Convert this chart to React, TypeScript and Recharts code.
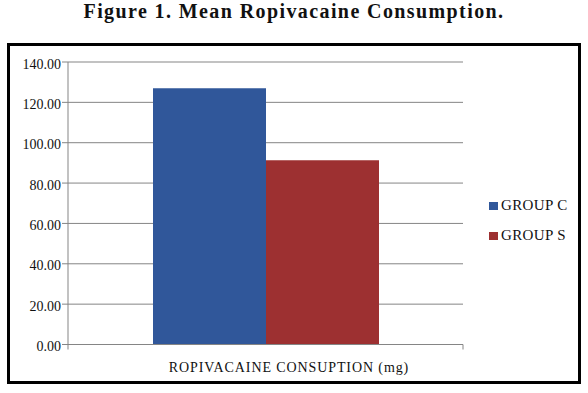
import React from 'react';
import { BarChart, Bar, XAxis, YAxis, CartesianGrid } from 'recharts';

const categories = ['ROPIVACAINE CONSUPTION (mg)'];
const seriesNames = ['GROUP C', 'GROUP S'];
const groupC = [127.0];
const groupS = [91.3];
const yTicks = [0, 20, 40, 60, 80, 100, 120, 140];

const data = categories.map((name, i) => ({
  name,
  groupC: groupC[i],
  groupS: groupS[i]
}));

const FONT = "'Liberation Serif', 'Times New Roman', serif";
const COLORS = ['#30579a', '#9d3031'];
const AXIS = '#858585';

function CategoryTick(props: any) {
  const { x, y, payload } = props;
  const half = payload.offset || 0;
  return (
    <g>
      <line x1={x - half} y1={y - 8} x2={x - half} y2={y - 3} stroke={AXIS} />
      <line x1={x + half} y1={y - 8} x2={x + half} y2={y - 3} stroke={AXIS} />
      <text
        x={x + 23.5}
        y={y + 19.4}
        textAnchor="middle"
        style={{ fontFamily: FONT, fontSize: 14, letterSpacing: 0.9 }}
        fill="#111">
        {payload.value}
      </text>
    </g>);

}

function ValueTick(props: any) {
  const { x, y, payload } = props;
  return (
    <text x={x} y={y} dy={6.5} textAnchor="end" style={{ fontFamily: FONT, fontSize: 14 }} fill="#111">
      {Number(payload.value).toFixed(2)}
    </text>);

}

export default function App() {
  return (
    <div style={{ position: 'absolute', left: 0, top: 0, width: 588, height: 393, background: '#fff', fontFamily: FONT }}>
      <div
        style={{
          position: 'absolute',
          left: 0,
          width: 588,
          top: 0,
          textAlign: 'center',
          fontWeight: 'bold',
          fontSize: 20,
          letterSpacing: 1.4,
          color: '#111'
        }}>
        Figure 1. Mean Ropivacaine Consumption.
      </div>
      <div
        style={{
          position: 'absolute',
          left: 7,
          top: 43,
          width: 568,
          height: 335,
          border: '3px solid #000'
        }} />
      
      <div style={{ position: 'absolute', left: 0, top: 0 }}>
        <BarChart
          width={588}
          height={393}
          data={data}
          margin={{ top: 62, right: 125, left: 0, bottom: 18.5 }}
          barCategoryGap={85}
          barGap={0}>
          
          <CartesianGrid vertical={false} stroke={AXIS} />
          <XAxis
            dataKey="name"
            height={30}
            axisLine={{ stroke: AXIS }}
            tickLine={false}
            tick={<CategoryTick />}
            interval={0} />
          
          <YAxis
            width={68}
            domain={[0, 140]}
            ticks={yTicks}
            interval={0}
            axisLine={{ stroke: AXIS }}
            tickLine={{ stroke: AXIS }}
            tickSize={6}
            tickMargin={1}
            tick={<ValueTick />} />
          
          <Bar dataKey="groupC" name={seriesNames[0]} fill={COLORS[0]} isAnimationActive={false} />
          <Bar dataKey="groupS" name={seriesNames[1]} fill={COLORS[1]} isAnimationActive={false} />
        </BarChart>
      </div>
      {seriesNames.map((label, i) =>
      <div
        key={label}
        style={{
          position: 'absolute',
          left: 489,
          top: 197 + i * 29.5,
          height: 17,
          lineHeight: '17px',
          fontSize: 15,
          letterSpacing: 0.35,
          color: '#111',
          whiteSpace: 'nowrap'
        }}>
          <span
          style={{
            position: 'absolute',
            left: 0,
            top: 5.3,
            width: 9,
            height: 8,
            background: COLORS[i]
          }} />
        
          <span style={{ position: 'absolute', left: 12 }}>{label}</span>
        </div>
      )}
    </div>);

}
